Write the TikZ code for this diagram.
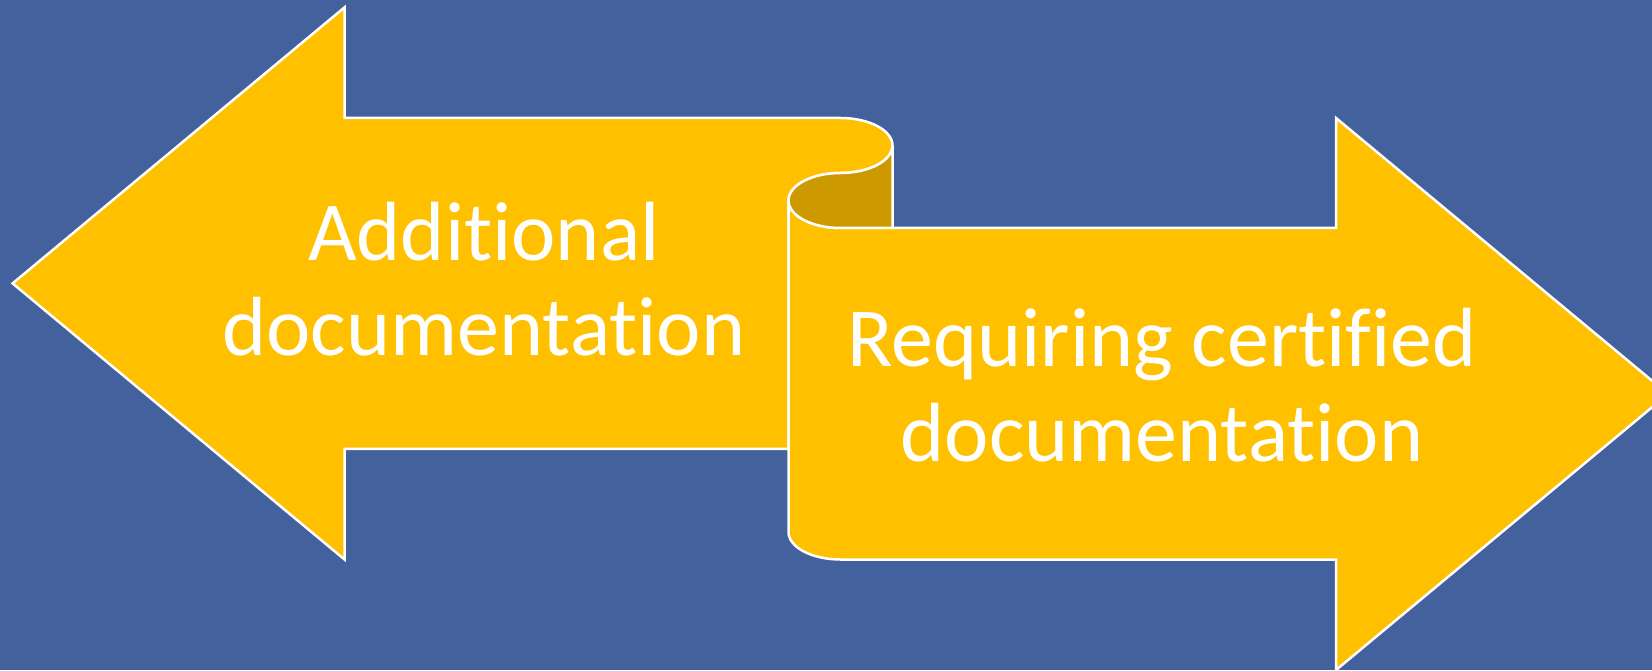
\documentclass[tikz,border=0pt]{standalone}
\usepackage{fontspec}
\setmainfont{Carlito}[Ligatures=NoCommon]
\usepackage{tikz}
\usetikzlibrary{positioning}
\definecolor{bgblue}{RGB}{67,97,156}
\definecolor{gold}{RGB}{255,192,0}
\definecolor{darkgold}{RGB}{204,154,0}
\tikzstyle{arrowbody} = [fill=gold, draw=white, line width=2.5pt, line join=miter]
\tikzstyle{flapbody} = [fill=darkgold, draw=white, line width=2.5pt]
\tikzstyle{arrowtext} = [text=white, align=center, anchor=base, inner sep=0pt, font=\fontsize{84}{95}\selectfont]

\begin{document}
\begin{tikzpicture}[x=1pt, y=1pt]
					\clip (0,0) rectangle (1652,670);
					\fill[bgblue] (0,0) rectangle (1652,670);
					% left arrow with the rolled end
					\draw[arrowbody] (12.6,386.6) -- (344.5,662.6) -- (344.5,552) -- (840.5,552)
						arc[start angle=90, end angle=-90, x radius=52, y radius=27.5]
						arc[start angle=90, end angle=180, x radius=52, y radius=27.5]
						-- (788.5,221) -- (344.5,221) -- (344.5,110.5) -- cycle;
					% right arrow
					\draw[arrowbody] (788.5,469.5)
						arc[start angle=180, end angle=270, x radius=52, y radius=27.5]
						-- (1336,442) -- (1336,552) -- (1668,276) -- (1336,0) -- (1336,110.5) -- (840.5,110.5)
						arc[start angle=270, end angle=180, x radius=52, y radius=27.5]
						-- cycle;
					% inside of the curl
					\draw[flapbody] (892.5,524.5)
						arc[start angle=0, end angle=-90, x radius=52, y radius=27.5]
						arc[start angle=90, end angle=270, x radius=52, y radius=27.5]
						-- (892.5,442) -- cycle;
					\node[arrowtext] (additional) at (484,314) {Additional\\documentation};
					\node[arrowtext] (certified) at (1162,208.5) {Requiring certified\\documentation};
\end{tikzpicture}
\end{document}
